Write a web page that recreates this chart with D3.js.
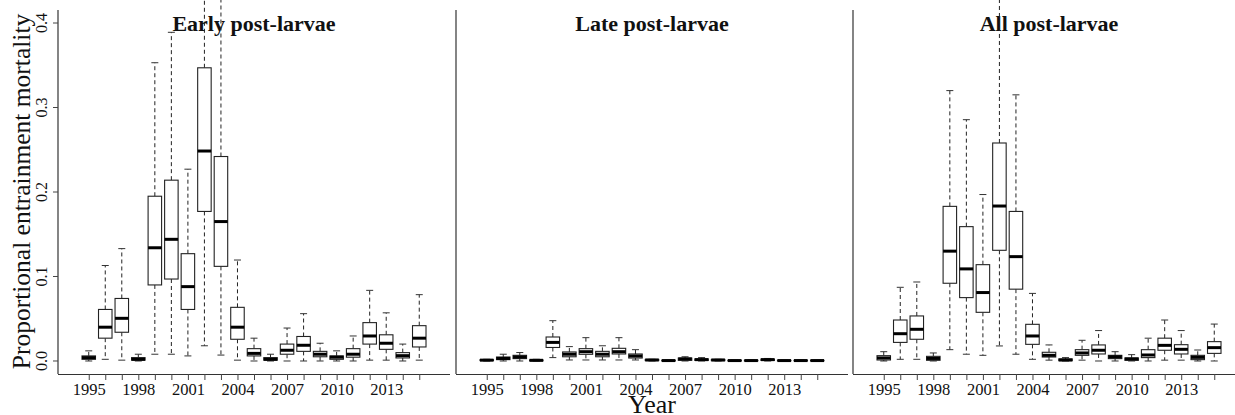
<!DOCTYPE html>
<html>
<head>
<meta charset="utf-8">
<script src="https://cdn.jsdelivr.net/npm/d3@7"></script>
<style>
  html, body { margin: 0; padding: 0; background: #fff; }
  svg { display: block; }
  text { font-family: "Liberation Serif", "Times New Roman", serif; fill: #111; }
</style>
</head>
<body>
<svg id="chart" width="1235" height="415"></svg>
<script>
// ---- Data ----
const years = d3.range(1995, 2016);
const tickLabelYears = [1995, 1998, 2001, 2004, 2007, 2010, 2013];
const yTicks = [0.0, 0.1, 0.2, 0.3, 0.4];
const panelTitles = ["Early post-larvae", "Late post-larvae", "All post-larvae"];

// Each series: [lower whisker, Q1, median, Q3, upper whisker] per year
const earlyStats = [
  [0.000, 0.002, 0.004, 0.006, 0.012],
  [0.002, 0.027, 0.040, 0.061, 0.113],
  [0.001, 0.034, 0.0505, 0.074, 0.133],
  [0.000, 0.001, 0.002, 0.004, 0.008],
  [0.008, 0.090, 0.134, 0.195, 0.353],
  [0.008, 0.097, 0.144, 0.214, 0.389],
  [0.006, 0.061, 0.088, 0.127, 0.227],
  [0.018, 0.177, 0.2485, 0.347, 0.460],
  [0.007, 0.112, 0.165, 0.242, 0.460],
  [0.001, 0.0257, 0.040, 0.0635, 0.1195],
  [0.000, 0.006, 0.009, 0.0146, 0.027],
  [0.000, 0.001, 0.002, 0.004, 0.008],
  [0.000, 0.008, 0.0127, 0.020, 0.039],
  [0.000, 0.0114, 0.0186, 0.029, 0.056],
  [0.000, 0.005, 0.008, 0.0114, 0.021],
  [0.000, 0.002, 0.0045, 0.006, 0.012],
  [0.000, 0.0045, 0.008, 0.0146, 0.0296],
  [0.001, 0.020, 0.0296, 0.0454, 0.0836],
  [0.001, 0.0138, 0.021, 0.031, 0.057],
  [0.000, 0.0036, 0.0063, 0.0099, 0.020],
  [0.001, 0.0166, 0.027, 0.0418, 0.0785]
];

const lateStats = [
  [0.000, 0.0005, 0.001, 0.0015, 0.002],
  [0.000, 0.0016, 0.003, 0.0047, 0.008],
  [0.000, 0.0028, 0.0047, 0.0067, 0.010],
  [0.000, 0.0002, 0.0008, 0.0012, 0.002],
  [0.004, 0.016, 0.022, 0.0284, 0.0477],
  [0.0012, 0.005, 0.008, 0.0107, 0.017],
  [0.0012, 0.0079, 0.011, 0.0146, 0.0276],
  [0.0012, 0.005, 0.008, 0.0114, 0.018],
  [0.0012, 0.0083, 0.011, 0.015, 0.0276],
  [0.0012, 0.0035, 0.0059, 0.0083, 0.0134],
  [0.000, 0.0005, 0.0012, 0.0018, 0.002],
  [0.000, 0.0002, 0.0005, 0.0008, 0.001],
  [0.000, 0.0008, 0.0024, 0.0035, 0.005],
  [0.000, 0.0007, 0.0016, 0.0024, 0.004],
  [0.000, 0.0004, 0.0012, 0.0018, 0.002],
  [0.000, 0.0002, 0.0005, 0.0008, 0.001],
  [0.000, 0.0002, 0.0005, 0.0008, 0.001],
  [0.000, 0.0007, 0.0016, 0.0022, 0.003],
  [0.000, 0.0002, 0.0005, 0.0008, 0.001],
  [0.000, 0.0002, 0.0005, 0.0008, 0.001],
  [0.000, 0.0002, 0.0005, 0.0008, 0.001]
];

const allStats = [
  [0.000, 0.0012, 0.0036, 0.0063, 0.011],
  [0.002, 0.022, 0.0323, 0.0485, 0.0872],
  [0.002, 0.0257, 0.0375, 0.0533, 0.0935],
  [0.000, 0.0008, 0.003, 0.0055, 0.0095],
  [0.0134, 0.092, 0.130, 0.183, 0.320],
  [0.008, 0.075, 0.109, 0.159, 0.2856],
  [0.0067, 0.0576, 0.081, 0.114, 0.197],
  [0.0178, 0.131, 0.1834, 0.258, 0.440],
  [0.008, 0.085, 0.1235, 0.177, 0.315],
  [0.002, 0.0197, 0.0296, 0.0434, 0.080],
  [0.001, 0.0047, 0.0067, 0.0103, 0.019],
  [0.000, 0.0004, 0.0012, 0.0024, 0.004],
  [0.001, 0.0067, 0.0095, 0.0134, 0.0245],
  [0.000, 0.0083, 0.0127, 0.019, 0.036],
  [0.000, 0.0028, 0.005, 0.0067, 0.011],
  [0.000, 0.0008, 0.0024, 0.0036, 0.0075],
  [0.000, 0.004, 0.0071, 0.0134, 0.027],
  [0.001, 0.0127, 0.0185, 0.027, 0.0485],
  [0.001, 0.0083, 0.0138, 0.0193, 0.036],
  [0.000, 0.0016, 0.0043, 0.0067, 0.013],
  [0.000, 0.009, 0.0158, 0.0229, 0.0437]
];

const seriesList = [earlyStats, lateStats, allStats];

// ---- Layout ----
const svg = d3.select("#chart");
const panelLefts = [58, 456, 853];
const panelWidth = 392;
const plotTop = 10, plotBottom = 374;
const pad = 1.86;

const y = d3.scaleLinear().domain([-0.0154, 0.4154]).range([plotBottom, plotTop]);

const boxW = 13.5, capW = 7;

panelLefts.forEach((left, pi) => {
  const x = d3.scaleLinear()
    .domain([1995 - pad, 2015 + pad])
    .range([left, left + panelWidth]);
  const g = svg.append("g");

  // Left axis line
  g.append("line")
    .attr("x1", left).attr("x2", left)
    .attr("y1", plotTop).attr("y2", plotBottom)
    .attr("stroke", "#333").attr("stroke-width", 1.2);

  // Bottom axis
  const xAxis = d3.axisBottom(x)
    .tickValues(years)
    .tickSize(6)
    .tickFormat(d => tickLabelYears.includes(d) ? String(d) : "");
  const ax = g.append("g")
    .attr("transform", `translate(0,${plotBottom})`)
    .call(xAxis);
  ax.select(".domain").attr("d", `M${left},0.5H${left + panelWidth}`).attr("stroke", "#333").attr("stroke-width", 1.2);
  ax.selectAll(".tick line").attr("stroke", "#444");
  ax.selectAll(".tick text")
    .attr("y", 9)
    .attr("dy", "0.71em")
    .style("font-family", '"Liberation Serif", serif')
    .style("font-size", "16.5px")
    .attr("fill", "#111");

  // Y ticks only on first panel
  if (pi === 0) {
    const yt = g.append("g");
    yt.selectAll("line").data(yTicks).join("line")
      .attr("x1", left - 5).attr("x2", left)
      .attr("y1", d => y(d)).attr("y2", d => y(d))
      .attr("stroke", "#444");
    yt.selectAll("text").data(yTicks).join("text")
      .attr("transform", d => `translate(${left - 11},${y(d)}) rotate(-90)`)
      .attr("text-anchor", "middle")
      .style("font-size", "16px")
      .text(d => d3.format(".1f")(d));
  }

  // Title
  g.append("text")
    .attr("x", left + panelWidth / 2)
    .attr("y", 31)
    .attr("text-anchor", "middle")
    .style("font-size", "22px")
    .style("font-weight", "bold")
    .text(panelTitles[pi]);

  // Boxes
  const stats = seriesList[pi];
  const bx = g.append("g");
  stats.forEach((s, i) => {
    const cx = x(years[i]);
    const [lo, q1, med, q3, hi] = s;
    // whiskers dashed
    bx.append("line")
      .attr("x1", cx).attr("x2", cx)
      .attr("y1", y(q3)).attr("y2", y(hi))
      .attr("stroke", "#222").attr("stroke-width", 1)
      .attr("stroke-dasharray", "4,3");
    bx.append("line")
      .attr("x1", cx).attr("x2", cx)
      .attr("y1", y(q1)).attr("y2", y(lo))
      .attr("stroke", "#222").attr("stroke-width", 1)
      .attr("stroke-dasharray", "4,3");
    // caps
    [lo, hi].forEach(v => {
      bx.append("line")
        .attr("x1", cx - capW / 2).attr("x2", cx + capW / 2)
        .attr("y1", y(v)).attr("y2", y(v))
        .attr("stroke", "#333").attr("stroke-width", 1);
    });
    // box
    bx.append("rect")
      .attr("x", cx - boxW / 2)
      .attr("y", y(q3))
      .attr("width", boxW)
      .attr("height", Math.max(0.5, y(q1) - y(q3)))
      .attr("fill", "#fff")
      .attr("stroke", "#222")
      .attr("stroke-width", 1.1);
    // median
    bx.append("line")
      .attr("x1", cx - boxW / 2).attr("x2", cx + boxW / 2)
      .attr("y1", y(med)).attr("y2", y(med))
      .attr("stroke", "#000").attr("stroke-width", 3);
  });
});

// Axis titles
svg.append("text")
  .attr("transform", `translate(30,191.5) rotate(-90)`)
  .attr("text-anchor", "middle")
  .style("font-size", "25.5px")
  .text("Proportional entrainment mortality");

svg.append("text")
  .attr("x", 652)
  .attr("y", 413)
  .attr("text-anchor", "middle")
  .style("font-size", "26px")
  .text("Year");
</script>
</body>
</html>
